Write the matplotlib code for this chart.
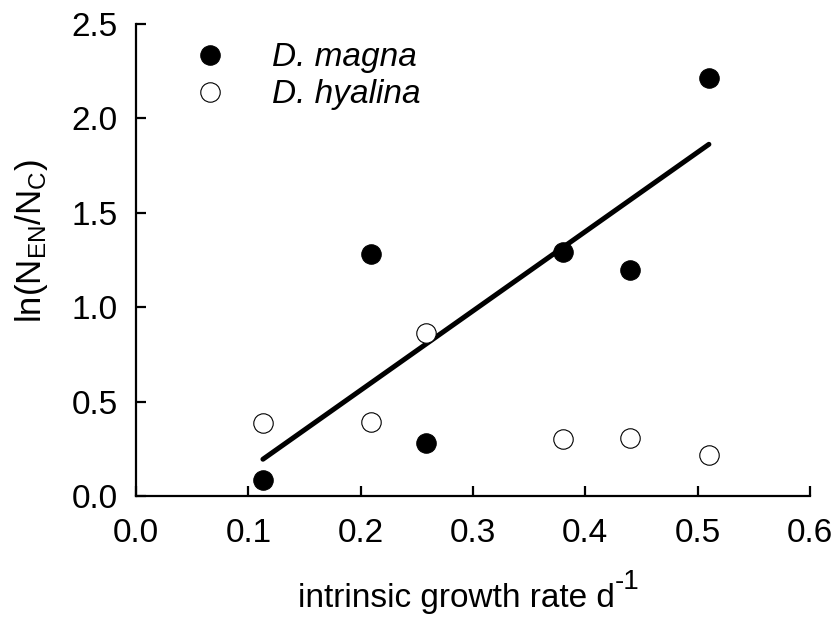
import numpy as np
import matplotlib
matplotlib.use("Agg")
import matplotlib.pyplot as plt
from matplotlib.lines import Line2D

plt.rcParams['font.family'] = ['Liberation Sans', 'DejaVu Sans']
plt.rcParams['mathtext.fontset'] = 'custom'
plt.rcParams['mathtext.rm'] = 'Liberation Sans'
plt.rcParams['mathtext.it'] = 'Liberation Sans:italic'

# Data
growth_rate = [0.113, 0.209, 0.258, 0.380, 0.440, 0.510]
magna = [0.085, 1.280, 0.280, 1.290, 1.195, 2.215]
hyalina = [0.389, 0.393, 0.863, 0.302, 0.306, 0.217]
species = ["D. magna", "D. hyalina"]
xticks = [0.0, 0.1, 0.2, 0.3, 0.4, 0.5, 0.6]
yticks = [0.0, 0.5, 1.0, 1.5, 2.0, 2.5]

FS = 24

fig = plt.figure(figsize=(8.37, 6.21), dpi=100)
ax = fig.add_axes([136/837, 1 - 496/621, (810-136)/837, (496-24)/621])

ms = 14
ax.plot(growth_rate, magna, 'o', ms=ms, mfc='black', mec='black', mew=0.8,
        linestyle='none', zorder=3, clip_on=False)
ax.plot(growth_rate, hyalina, 'o', ms=ms, mfc='white', mec='black', mew=0.8,
        linestyle='none', zorder=3, clip_on=False)

# regression line for D. magna
coef = np.polyfit(growth_rate, magna, 1)
xl = np.array([min(growth_rate), max(growth_rate)])
ax.plot(xl, np.polyval(coef, xl), color='black', lw=3.6, solid_capstyle='round', zorder=2)

ax.set_xlim(0, 0.6)
ax.set_ylim(0, 2.5)
ax.set_xticks(xticks)
ax.set_yticks(yticks)
ax.set_xticklabels([f"{t:.1f}" for t in xticks])
ax.set_yticklabels([f"{t:.1f}" for t in yticks])

for s in ['top', 'right']:
    ax.spines[s].set_visible(False)
for s in ['left', 'bottom']:
    ax.spines[s].set_linewidth(1.6)
ax.tick_params(direction='in', length=7.5, width=1.6, labelsize=FS)
ax.tick_params(axis='x', pad=16)
ax.tick_params(axis='y', pad=13)

ax.set_xlabel('intrinsic growth rate d', fontsize=FS, labelpad=24)
ax.xaxis.set_label_coords(0.475, -0.185)
ax.annotate('-1', xy=(1.0, 0.62), xycoords=ax.xaxis.label, fontsize=20,
            ha='left', va='bottom')
ax.set_ylabel(r'ln(N$_{\mathregular{EN}}$/N$_{\mathregular{C}}$)', fontsize=25)
ax.yaxis.set_label_coords(-0.128, 0.54)

handles = [
    Line2D([], [], marker='o', ms=ms, mfc='black', mec='black', mew=0.8, linestyle='none'),
    Line2D([], [], marker='o', ms=ms, mfc='white', mec='black', mew=0.8, linestyle='none'),
]
leg = ax.legend(handles, species, loc='upper left', bbox_to_anchor=(0.06, 0.961),
                frameon=False, fontsize=FS, handlelength=2.0, handletextpad=0.87,
                labelspacing=0.18, borderpad=0, borderaxespad=0)
for t in leg.get_texts():
    t.set_fontstyle('italic')

fig.savefig('out.png', dpi=100)
